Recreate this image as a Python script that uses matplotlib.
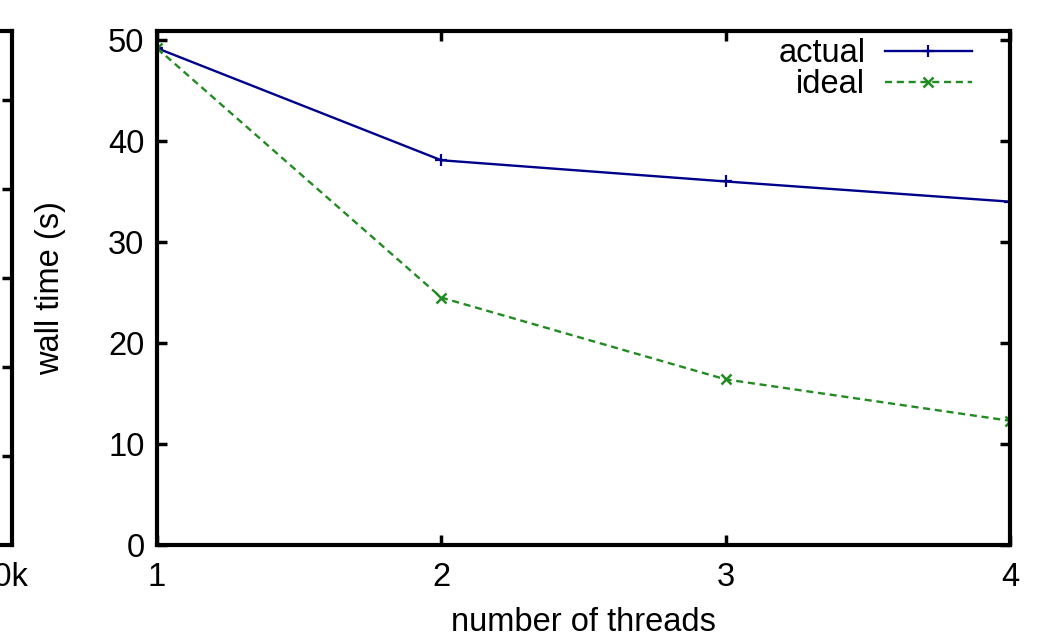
import matplotlib
matplotlib.use("Agg")
import matplotlib.pyplot as plt

plt.rcParams["font.family"] = ["Liberation Sans", "DejaVu Sans"]

threads = [1, 2, 3, 4]
actual = [49.2, 38.1, 36.0, 34.0]
ideal = [49.2, 24.5, 16.4, 12.3]

W, H = 1044, 637
FS = 23.5
fig = plt.figure(figsize=(W / 100, H / 100), dpi=100)

def box(x0, y0, x1, y1):
    # pixel box (top-left origin) -> figure fraction rect
    return [x0 / W, 1 - y1 / H, (x1 - x0) / W, (y1 - y0) / H]

# main panel
ax = fig.add_axes(box(157, 31, 1010, 545))
ax.plot(threads, actual, color="#00008b", lw=1.7, marker="+", ms=9, mew=1.6, label="actual")
ax.plot(threads, ideal, color="#228b22", lw=1.7, ls=(0, (3, 2)), marker="x", ms=7, mew=1.8, label="ideal")
ax.set_xlim(1, 4)
ax.set_ylim(0, 50.9)
ax.set_xticks(threads)
ax.set_yticks([0, 10, 20, 30, 40, 50])
ax.tick_params(direction="in", length=7, width=2.5, labelsize=FS, top=True, right=True)
ax.tick_params(axis="x", pad=12)
ax.tick_params(axis="y", pad=9)
for s in ax.spines.values():
    s.set_linewidth(3)
ax.set_xlabel("number of threads", fontsize=FS, labelpad=10)
ax.set_ylabel("wall time (s)", fontsize=FS, labelpad=30)
ax.legend(loc="upper right", bbox_to_anchor=(972 / W, 1 - 38 / H),
          bbox_transform=fig.transFigure, frameon=False, markerfirst=False,
          fontsize=FS, handlelength=2.67, handletextpad=0.6, labelspacing=0.0,
          borderaxespad=0, borderpad=0)

# edge of neighbouring panel, mostly cut off
ax2 = fig.add_axes(box(-600, 31, 12, 545))
ax2.set_xlim(0, 100)
ax2.set_ylim(0, 5.78)
ax2.set_xticks([96.9])
ax2.set_xticklabels(["100k"])
ax2.set_yticks([1, 2, 3, 4, 5])
ax2.set_yticklabels([])
ax2.tick_params(direction="in", length=7, width=2.5, labelsize=FS, right=True, pad=12)
for s in ax2.spines.values():
    s.set_linewidth(3)

fig.savefig("out.png", dpi=100)
